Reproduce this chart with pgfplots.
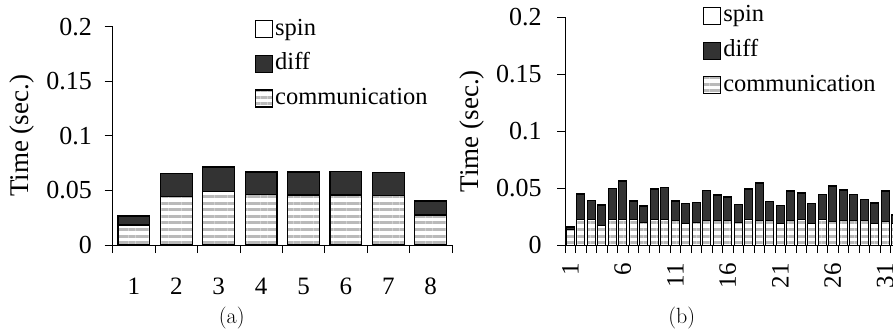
\documentclass[border=0pt]{standalone}
\usepackage{fontspec}
\usepackage{pgfplots}
\usepackage{pgfplotstable}
\pgfplotsset{compat=1.18}
\usetikzlibrary{patterns.meta}
\newfontfamily\tnr{Liberation Serif}
\newcommand\ytickfont{\tnr\fontsize{26}{30}\selectfont}
\newcommand\xtickfont{\tnr\fontsize{25}{30}\selectfont}
\newcommand\labfont{\tnr\fontsize{27}{32}\selectfont}
\newcommand\legfont{\tnr\fontsize{24.5}{28}\selectfont}

\pgfplotstableread{
x comm diff spin
1 0.0183 0.0080 0.0005
2 0.0443 0.0209 0.0005
3 0.0492 0.0220 0.0005
4 0.0464 0.0203 0.0005
5 0.0458 0.0206 0.0005
6 0.0458 0.0212 0.0005
7 0.0452 0.0209 0.0005
8 0.0275 0.0123 0.0005
}\dataA

\pgfplotstableread{
x comm diff spin
1 0.0132 0.0024 0.0005
2 0.0225 0.0221 0.0005
3 0.0225 0.0165 0.0005
4 0.0173 0.0174 0.0005
5 0.0225 0.0270 0.0005
6 0.0225 0.0335 0.0005
7 0.0225 0.0159 0.0005
8 0.0196 0.0144 0.0005
9 0.0220 0.0267 0.0005
10 0.0220 0.0282 0.0005
11 0.0214 0.0170 0.0005
12 0.0193 0.0168 0.0005
13 0.0200 0.0170 0.0005
14 0.0214 0.0264 0.0005
15 0.0214 0.0222 0.0005
16 0.0214 0.0206 0.0005
17 0.0196 0.0156 0.0005
18 0.0220 0.0270 0.0005
19 0.0214 0.0329 0.0005
20 0.0212 0.0169 0.0005
21 0.0193 0.0153 0.0005
22 0.0211 0.0261 0.0005
23 0.0220 0.0232 0.0005
24 0.0190 0.0171 0.0005
25 0.0220 0.0220 0.0005
26 0.0205 0.0311 0.0005
27 0.0217 0.0264 0.0005
28 0.0217 0.0223 0.0005
29 0.0217 0.0182 0.0005
30 0.0190 0.0174 0.0005
31 0.0208 0.0264 0.0005
32 0.0190 0.0069 0.0005
}\dataB

\definecolor{diffc}{HTML}{333333}
\pgfplotsset{
  sqlegend/.style={legend image code/.code={\draw[##1] (0pt,-8.5pt) rectangle (17pt,8.5pt);}},
  commstyle/.style={fill=white, draw=black, line width=#1,
     postaction={pattern={Lines[angle=0,distance=6.6pt,line width=3pt]}, pattern color=black!27, draw=black, line width=#1}, sqlegend},
  diffstyle/.style={fill=diffc, draw=black, line width=#1, sqlegend},
  spinstyle/.style={fill=white, draw=black, line width=#1, sqlegend},
  common/.style={
    scale only axis, anchor=south west,
    ymin=0, ymax=0.2,
    axis x line=bottom, axis y line=left,
    axis line style={-, line width=0.9pt, black},
    ybar stacked, bar width=0.75,
    ytick={0,0.05,0.1,0.15,0.2}, yticklabels={0,0.05,0.1,0.15,0.2},
    tick align=outside, major tick length=8pt, minor tick length=8pt,
    tick style={black, line width=0.8pt},
    major x tick style={draw=none},
    /pgf/number format/assume math mode=true,
    yticklabel style={font=\ytickfont, inner sep=0pt, anchor=east},
    xticklabel style={font=\xtickfont, inner sep=0pt},
    ylabel={Time (sec.)},
    reverse legend, legend cell align=left,
    legend style={draw=none, fill=none, font=\legfont, anchor=north west,
      inner sep=0pt, outer sep=0pt, row sep=10.7pt, column sep=2pt,
      nodes={inner sep=0pt, text height=18pt, text depth=6pt}},
  }
}

\begin{document}
\begin{tikzpicture}
\path[use as bounding box] (0pt,0pt) rectangle (893pt,335pt);
\begin{axis}[common,
  at={(112.7pt,90pt)}, width=339.2pt, height=218.3pt,
  xmin=0.5, xmax=8.5,
  xtick={1,...,8}, xticklabels={1,2,3,4,5,6,7,8},
  minor xtick={0.5,1.5,...,8.5},
  xticklabel style={yshift=-25pt, anchor=north},
  yticklabel style={xshift=-12.7pt},
  ylabel style={font=\labfont, at={(axis description cs:-0.268,0.5)}, anchor=center},
  legend style={at={(axis description cs:0.4195,1.0444)}},
]
\addplot[commstyle=1.2pt] table[x=x,y=comm] {\dataA};
\addplot[diffstyle=1.2pt] table[x=x,y=diff] {\dataA};
\addplot[spinstyle=1.2pt] table[x=x,y=spin] {\dataA};
\legend{communication,diff,spin}
\end{axis}

\begin{axis}[common,
  at={(565pt,90pt)}, width=328pt, height=227.7pt,
  xmin=0.5, xmax=31.74,
  xtick={1,6,...,31}, xticklabels={1,6,11,16,21,26,31},
  minor xtick={0.5,1.5,...,31.5},
  xticklabel style={yshift=-10pt, rotate=90, anchor=east},
  yticklabel style={xshift=-15.3pt},
  ylabel style={font=\labfont, at={(axis description cs:-0.2845,0.5)}, anchor=center},
  legend style={at={(axis description cs:0.4216,1.0593)}},
]
\addplot[commstyle=1pt] table[x=x,y=comm] {\dataB};
\addplot[diffstyle=1pt] table[x=x,y=diff] {\dataB};
\addplot[spinstyle=1pt] table[x=x,y=spin] {\dataB};
\legend{communication,diff,spin}
\end{axis}

\node[font=\fontsize{22}{26}\selectfont] at (231.7pt,17pt) {(a)};
\node[font=\fontsize{22}{26}\selectfont] at (681.7pt,17pt) {(b)};
\end{tikzpicture}
\end{document}
